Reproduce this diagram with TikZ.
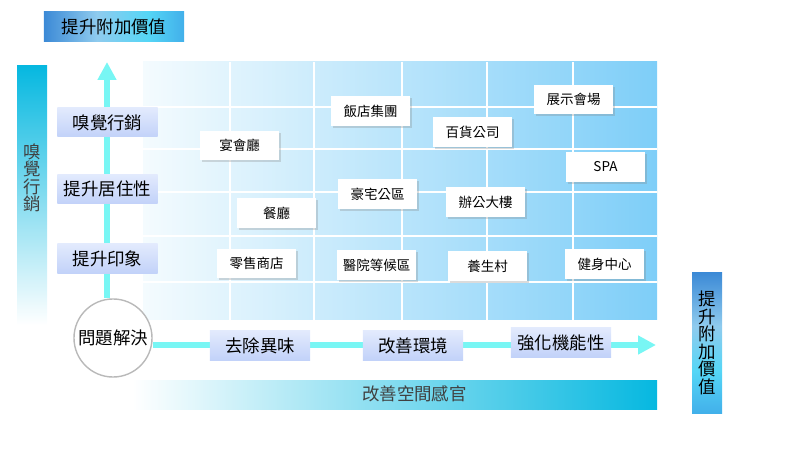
\documentclass[tikz,border=0pt]{standalone}
\usepackage{fontspec}
\setmainfont{Noto Sans CJK TC}
\usetikzlibrary{arrows.meta,shadows,backgrounds}
\definecolor{flowc}{HTML}{78F6F4}
\definecolor{labtop}{HTML}{E2EAFD}
\definecolor{labbot}{HTML}{C2D2F9}
\definecolor{gridl}{HTML}{F4FBFE}
\definecolor{gridr}{HTML}{7ECEF8}
\definecolor{barc}{HTML}{06B8E0}
\definecolor{hdrA}{HTML}{3C8AD6}
\definecolor{hdrB}{HTML}{8FCBEE}
\definecolor{hdrC}{HTML}{55D6F6}
\definecolor{hdrD}{HTML}{42B0EA}
\definecolor{inkgrey}{HTML}{404040}
\pgfdeclarehorizontalshading{hdrshade}{100bp}{color(0bp)=(hdrA); color(25bp)=(hdrA); color(44bp)=(hdrB); color(62bp)=(hdrC); color(75bp)=(hdrD); color(100bp)=(hdrD)}
\pgfdeclareverticalshading{sideshade}{100bp}{color(0bp)=(hdrD); color(25bp)=(hdrD); color(40bp)=(hdrC); color(56bp)=(hdrB); color(75bp)=(hdrA); color(100bp)=(hdrA)}

\begin{document}
\begin{tikzpicture}[x=0.025cm, y=-0.025cm,
  place/.style={fill=white, minimum width=1.975cm, minimum height=0.74cm, inner sep=0pt, font=\fontsize{9.6}{11}\selectfont, drop shadow={shadow xshift=1.5pt, shadow yshift=-1.5pt, opacity=0.28}},
  level/.style={top color=labtop, bottom color=labbot, minimum width=2.5cm, minimum height=0.725cm, inner sep=0pt, font=\fontsize{12.4}{14}\selectfont},
  vtext/.style={align=center, inner sep=0pt, font=\fontsize{12.4}{12.5}\selectfont},
  flow/.style={flowc, line width=3.6pt, -{Triangle[width=0.45cm, length=0.45cm]}},
  gridline/.style={white, line width=0.8pt}
]
\useasboundingbox (0,0) rectangle (800,457);
% bars and grid
\begin{scope}[on background layer]
\fill[top color=barc, bottom color=white] (17,66) rectangle (47,325);
\fill[left color=white, right color=barc] (132,380) rectangle (657,409);
\fill[left color=gridl, right color=gridr] (143,62) rectangle (657,320);
\foreach \gx in {230,314,402,487,573}
  \draw[gridline] (\gx,62) -- (\gx,320);
\foreach \gy in {107,149,192,236,282}
  \draw[gridline] (143,\gy) -- (657,\gy);
\end{scope}
\node[shading=hdrshade, minimum width=3.5cm, minimum height=0.75cm, inner sep=0pt, font=\fontsize{12.4}{14}\selectfont] (valuetop) at (114,27) {提升附加價值};
\node[shading=sideshade, minimum width=0.75cm, minimum height=3.5cm, vtext] (valueside) at (707,343) {提\\升\\附\\加\\價\\值};
\node[vtext, text=inkgrey] (scentside) at (32,178) {嗅\\覺\\行\\銷};
\node[text=inkgrey, font=\fontsize{12.4}{14}\selectfont] (sense) at (414.5,394) {改善空間感官};
% axes
\node[circle, draw=gray!55, line width=1pt, fill=white, minimum size=1.95cm, inner sep=0pt, font=\fontsize{12.4}{14}\selectfont] (solve) at (113,338) {問題解決};
\coordinate (vtip) at (107,62);
\coordinate (htip) at (656,345);
\begin{scope}[on background layer]
\draw[flow] (vtip |- solve.north) -- (vtip);
\draw[flow] (solve.east |- htip) -- (htip);
\end{scope}
\node[level] (scent) at (107.5,122.5) {嗅覺行銷};
\node[level] (living) at (107.5,189) {提升居住性};
\node[level] (image) at (107.5,258.5) {提升印象};
\node[level] (odor) at (260,345.5) {去除異味};
\node[level] (env) at (413,345.5) {改善環境};
\node[level] (func) at (561,342.5) {強化機能性};
% places
\node[place] (banquet) at (239.5,145.5) {宴會廳};
\node[place] (dining) at (276.5,213) {餐廳};
\node[place] (retail) at (256.5,263.5) {零售商店};
\node[place] (hotel) at (370.5,111) {飯店集團};
\node[place] (dept) at (472.5,132) {百貨公司};
\node[place] (expo) at (573.5,99.5) {展示會場};
\node[place] (spa) at (605.5,167) {SPA};
\node[place] (mansion) at (377.5,194) {豪宅公區};
\node[place] (office) at (485.5,202) {辦公大樓};
\node[place] (clinic) at (376.5,265) {醫院等候區};
\node[place] (senior) at (487.5,266) {養生村};
\node[place] (gym) at (604.5,264) {健身中心};
\end{tikzpicture}
\end{document}
